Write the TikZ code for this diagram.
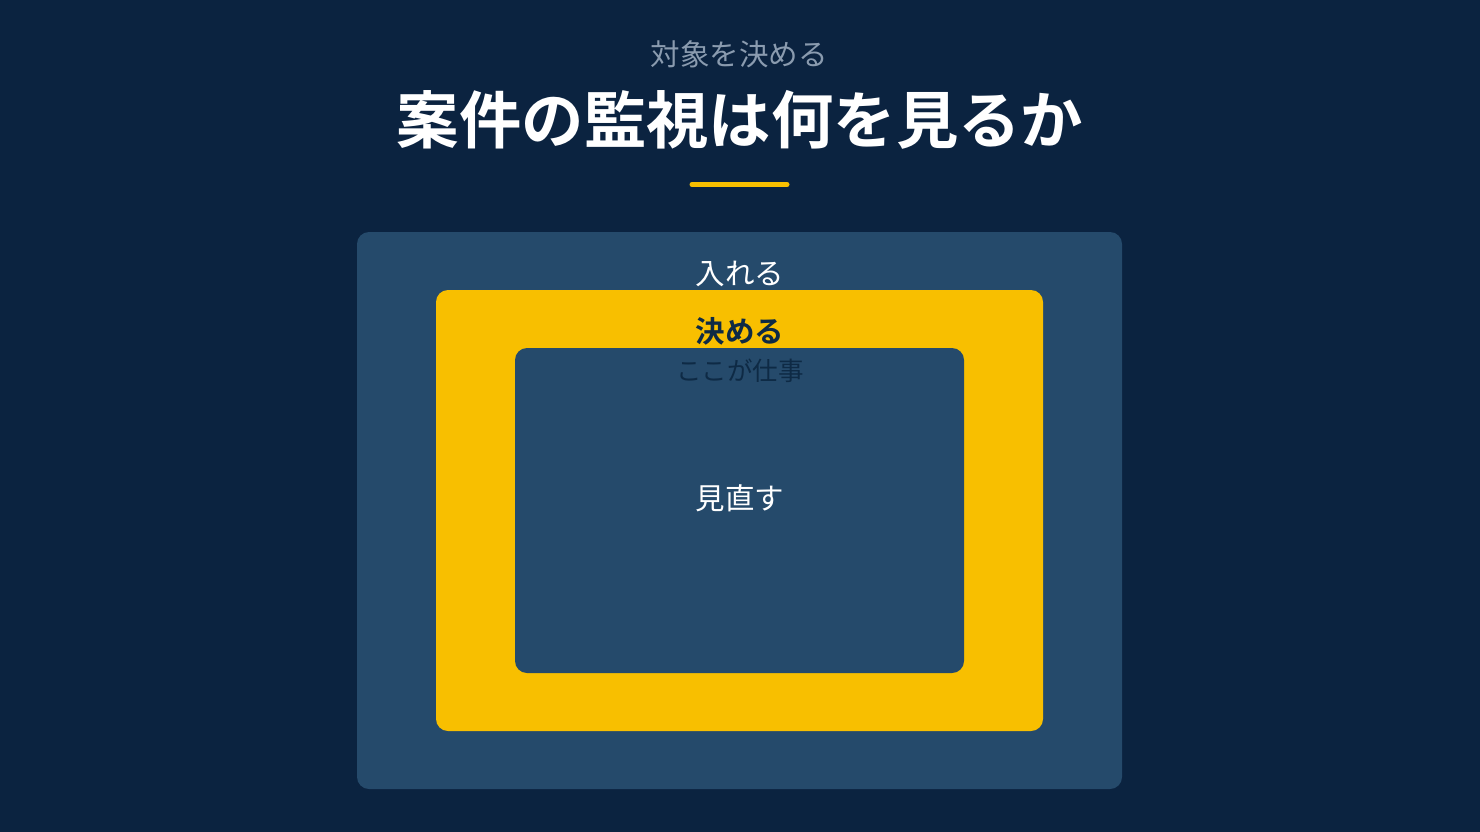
\documentclass[tikz,border=0pt]{standalone}
\usepackage{fontspec}
\newfontfamily\jp{Noto Sans CJK JP}[BoldFont={Noto Sans CJK JP Bold}]
\definecolor{bgnavy}{HTML}{0B2340}
\definecolor{boxblue}{HTML}{254A6B}
\definecolor{gold}{HTML}{F8BF00}
\definecolor{subgrey}{HTML}{8A9BAF}
\definecolor{darktext}{HTML}{0E2A45}
\tikzset{
  panel/.style={rounded corners=12pt, inner sep=0pt},
  lbl/.style={inner sep=0pt, anchor=center, font=\jp},
}
\begin{document}
\begin{tikzpicture}[x=1pt,y=-1pt]
\fill[bgnavy] (0,0) rectangle (1480,832);
\useasboundingbox (0,0) rectangle (1480,832);
% panels
\fill[boxblue, panel] (357,232) rectangle (1122,789);
\fill[gold, panel] (436,290) rectangle (1043,731);
\fill[boxblue, panel] (515,348) rectangle (964,673);
% underline
\draw[gold, line width=5pt, line cap=round] (692,184.5) -- (787,184.5);
% texts
\node[lbl, text=subgrey, font=\jp\fontsize{29.5}{34}\selectfont] (sub) at (739,54) {対象を決める};
\node[lbl, text=white, font=\jp\bfseries\fontsize{62.4}{74}\selectfont] (title) at (740,120) {案件の監視は何を見るか};
\node[lbl, text=white, font=\jp\fontsize{29.5}{34}\selectfont] (outer) at (740,274) {入れる};
\node[lbl, text=darktext, font=\jp\bfseries\fontsize{29.5}{34}\selectfont] (mid) at (740,331) {決める};
\node[lbl, text=darktext, font=\jp\fontsize{25.5}{30}\selectfont] (midsub) at (740,371) {ここが仕事};
\node[lbl, text=white, font=\jp\fontsize{29.5}{34}\selectfont] (inner) at (740,498) {見直す};
\end{tikzpicture}
\end{document}
